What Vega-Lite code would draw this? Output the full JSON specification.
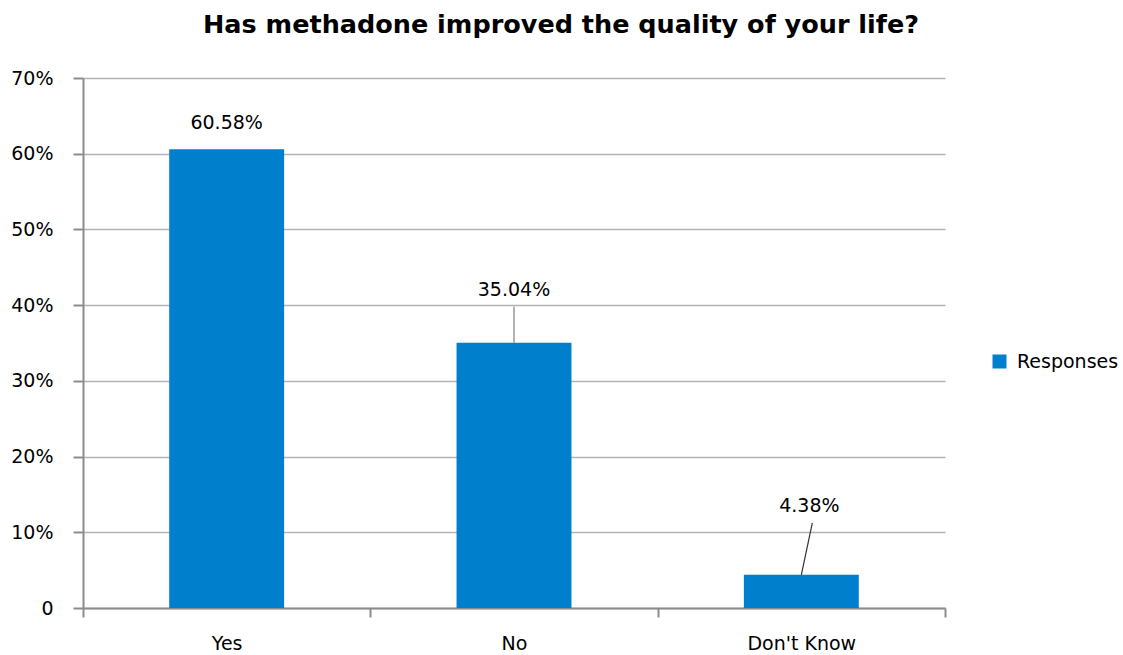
{
  "$schema": "https://vega.github.io/schema/vega-lite/v6.json",
  "width": 862,
  "height": 530,
  "autosize": {"type": "none"},
  "padding": {"left": 83, "top": 78, "right": 178, "bottom": 47},
  "background": "white",
  "config": {"font": "DejaVu Sans", "view": {"stroke": null}},
  "title": {"text": "Has methadone improved the quality of your life?", "font": "DejaVu Sans", "fontSize": 25.5, "fontWeight": "bold", "color": "#000000", "anchor": "middle", "dx": 47, "offset": 31},
  "data": {"values": [
    {"Category": "Yes", "Value": 0.6058},
    {"Category": "No", "Value": 0.3504},
    {"Category": "Don't Know", "Value": 0.0438}
  ]},
  "encoding": {
    "x": {"field": "Category", "type": "nominal", "sort": null,
      "scale": {"type": "band", "paddingInner": 0, "paddingOuter": 0},
      "axis": {"title": null, "labelAngle": 0, "tickBand": "extent", "labelFontSize": 19, "labelColor": "#000000", "labelPadding": 17, "domainColor": "#8c8c8c", "domainWidth": 2, "tickColor": "#8c8c8c", "tickWidth": 2, "tickSize": 9}},
    "y": {"field": "Value", "type": "quantitative",
      "scale": {"domain": [0, 0.7], "nice": false},
      "axis": {"title": null, "values": [0, 0.1, 0.2, 0.3, 0.4, 0.5, 0.6, 0.7], "labelExpr": "datum.value == 0 ? '0' : format(datum.value, '.0%')", "labelFontSize": 19, "labelColor": "#000000", "labelPadding": 20, "domainColor": "#8c8c8c", "domainWidth": 2, "tickColor": "#8c8c8c", "tickWidth": 2, "tickSize": 10, "gridColor": "#b3b3b3", "gridWidth": 1.3}}
  },
  "layer": [
    {"mark": {"type": "bar", "width": {"band": 0.4}, "color": "#0080CC"},
     "encoding": {"color": {"datum": "Responses", "scale": {"range": ["#0080CC"]},
       "legend": {"title": null, "orient": "none", "legendX": 907, "legendY": 274, "symbolType": "square", "symbolSize": 196, "symbolStrokeWidth": 0, "labelFontSize": 19, "labelColor": "#000000", "labelOffset": 8}}}},
    {"transform": [{"filter": "datum.Category == 'Yes'"}],
     "mark": {"type": "text", "fontSize": 19, "color": "#000000", "dy": -26, "baseline": "middle"},
     "encoding": {"text": {"field": "Value", "type": "quantitative", "format": ".2%"}}},
    {"transform": [{"filter": "datum.Category == 'No'"}],
     "mark": {"type": "text", "fontSize": 19, "color": "#000000", "dy": -53, "baseline": "middle"},
     "encoding": {"text": {"field": "Value", "type": "quantitative", "format": ".2%"}}},
    {"transform": [{"filter": "datum.Category == \"Don't Know\""}],
     "mark": {"type": "text", "fontSize": 19, "color": "#000000", "dy": -69, "dx": 8, "baseline": "middle"},
     "encoding": {"text": {"field": "Value", "type": "quantitative", "format": ".2%"}}},
    {"transform": [{"filter": "datum.Category == 'No'"}],
     "mark": {"type": "rule", "color": "#7f7f7f", "strokeWidth": 1.2, "y2Offset": -36},
     "encoding": {"y2": {"field": "Value"}}},
    {"transform": [{"filter": "datum.Category == \"Don't Know\""}],
     "mark": {"type": "rule", "color": "#333333", "strokeWidth": 1.2, "x2Offset": 11, "y2Offset": -52},
     "encoding": {"x2": {"field": "Category"}, "y2": {"field": "Value"}}}
  ]
}
